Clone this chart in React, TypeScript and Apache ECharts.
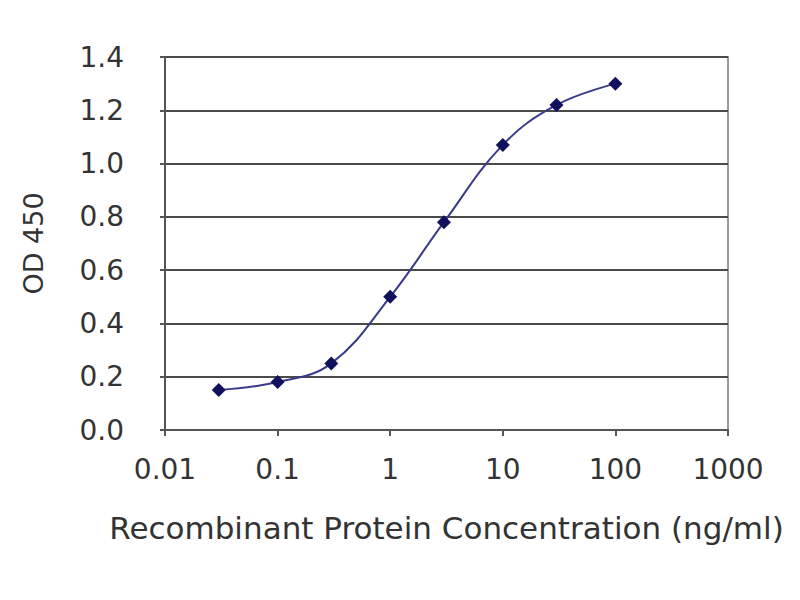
import React, { useEffect, useRef } from "react";
import * as echarts from "echarts";

const concentrations = [0.03, 0.1, 0.3, 1, 3, 10, 30, 100];
const odValues = [0.15, 0.18, 0.25, 0.5, 0.78, 1.07, 1.22, 1.3];
const xAxisTitle = "Recombinant Protein Concentration (ng/ml)";
const yAxisTitle = "OD 450";

const FONT = "DejaVu Sans";

export default function App() {
  const ref = useRef<HTMLDivElement>(null);
  useEffect(() => {
    if (!ref.current) return;
    const chart = echarts.init(ref.current, undefined, { renderer: "svg" });
    const data = concentrations.map((c, i) => [c, odValues[i]]);
    chart.setOption({
      animation: false,
      backgroundColor: "#ffffff",
      grid: {
        left: 165,
        right: 72,
        top: 57,
        bottom: 170,
        show: true,
        borderColor: "#9a9a9a",
        borderWidth: 2,
        backgroundColor: "transparent",
      },
      xAxis: {
        type: "log",
        logBase: 10,
        min: 0.01,
        max: 1000,
        name: xAxisTitle,
        nameLocation: "middle",
        nameGap: 82,
        nameTextStyle: { fontFamily: FONT, fontSize: 31, color: "#333333" },
        axisLine: { show: true, lineStyle: { color: "#555555", width: 2 } },
        axisTick: { show: true, inside: false, length: 6, lineStyle: { color: "#555555", width: 2 } },
        axisLabel: {
          margin: 25,
          fontFamily: FONT,
          fontSize: 28,
          color: "#333333",
          formatter: (v: number) => (v < 1 ? String(+v.toPrecision(1)) : String(Math.round(v))),
        },
        splitLine: { show: false },
        minorTick: { show: false },
      },
      yAxis: {
        type: "value",
        min: 0,
        max: 1.4,
        interval: 0.2,
        name: yAxisTitle,
        nameLocation: "middle",
        nameRotate: 90,
        nameGap: 118,
        nameTextStyle: { fontFamily: FONT, fontSize: 27, color: "#333333" },
        axisLine: { show: true, lineStyle: { color: "#555555", width: 2 } },
        axisTick: { show: true, inside: false, length: 5, lineStyle: { color: "#555555", width: 2 } },
        axisLabel: {
          margin: 41,
          fontFamily: FONT,
          fontSize: 28,
          color: "#333333",
          formatter: (v: number) => v.toFixed(1),
        },
        splitLine: { show: true, lineStyle: { color: "#4a4a4a", width: 2 } },
      },
      series: [
        {
          type: "line",
          data,
          smooth: 0.4,
          symbol: "diamond",
          symbolSize: 14,
          lineStyle: { color: "#3a3a8a", width: 2 },
          itemStyle: { color: "#10105c" },
        },
      ],
    });
    return () => chart.dispose();
  }, []);
  return <div ref={ref} style={{ width: 800, height: 600, position: "absolute", left: 0, top: 0 }} />;
}
